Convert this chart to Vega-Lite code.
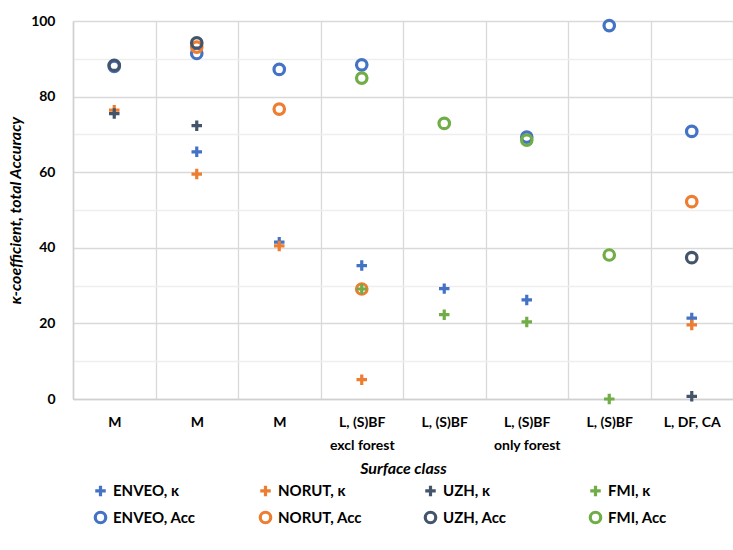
{
  "$schema": "https://vega.github.io/schema/vega-lite/v6.json",
  "autosize": "none",
  "width": 660,
  "height": 378,
  "padding": {"left": 73, "top": 21, "right": 0, "bottom": 151},
  "background": "white",
  "config": {
    "font": "Lato",
    "view": {"stroke": null}
  },
  "data": {
    "values": [
      {"col": "c1", "series": "ENVEO, Acc", "value": 88.0},
      {"col": "c1", "series": "UZH, Acc", "value": 88.3},
      {"col": "c1", "series": "NORUT, κ", "value": 76.4},
      {"col": "c1", "series": "UZH, κ", "value": 75.5},
      {"col": "c2", "series": "ENVEO, Acc", "value": 91.4},
      {"col": "c2", "series": "NORUT, Acc", "value": 93.1},
      {"col": "c2", "series": "UZH, Acc", "value": 94.2},
      {"col": "c2", "series": "UZH, κ", "value": 72.3},
      {"col": "c2", "series": "ENVEO, κ", "value": 65.4},
      {"col": "c2", "series": "NORUT, κ", "value": 59.5},
      {"col": "c3", "series": "ENVEO, Acc", "value": 87.2},
      {"col": "c3", "series": "NORUT, Acc", "value": 76.7},
      {"col": "c3", "series": "ENVEO, κ", "value": 41.5},
      {"col": "c3", "series": "NORUT, κ", "value": 40.5},
      {"col": "c4", "series": "ENVEO, Acc", "value": 88.4},
      {"col": "c4", "series": "FMI, Acc", "value": 84.9},
      {"col": "c4", "series": "ENVEO, κ", "value": 35.3},
      {"col": "c4", "series": "NORUT, Acc", "value": 29.1},
      {"col": "c4", "series": "FMI, κ", "value": 29.1},
      {"col": "c4", "series": "NORUT, κ", "value": 5.1},
      {"col": "c5", "series": "FMI, Acc", "value": 72.9},
      {"col": "c5", "series": "ENVEO, κ", "value": 29.2},
      {"col": "c5", "series": "FMI, κ", "value": 22.3},
      {"col": "c6", "series": "ENVEO, Acc", "value": 69.3},
      {"col": "c6", "series": "FMI, Acc", "value": 68.5},
      {"col": "c6", "series": "ENVEO, κ", "value": 26.2},
      {"col": "c6", "series": "FMI, κ", "value": 20.4},
      {"col": "c7", "series": "ENVEO, Acc", "value": 98.8},
      {"col": "c7", "series": "FMI, Acc", "value": 38.1},
      {"col": "c7", "series": "FMI, κ", "value": 0.0},
      {"col": "c8", "series": "ENVEO, Acc", "value": 70.8},
      {"col": "c8", "series": "NORUT, Acc", "value": 52.2},
      {"col": "c8", "series": "UZH, Acc", "value": 37.4},
      {"col": "c8", "series": "ENVEO, κ", "value": 21.4},
      {"col": "c8", "series": "NORUT, κ", "value": 19.6},
      {"col": "c8", "series": "UZH, κ", "value": 0.7}
    ]
  },
  "mark": {"type": "point", "filled": false, "strokeWidth": 3.2, "size": 110, "opacity": 1, "clip": false},
  "encoding": {
    "x": {
      "field": "col",
      "type": "nominal",
      "scale": {"domain": ["c1","c2","c3","c4","c5","c6","c7","c8"], "paddingInner": 0, "paddingOuter": 0},
      "axis": {
        "title": "Surface class",
        "titleFont": "Lato",
        "titleFontSize": 16,
        "titleFontWeight": "bold",
        "titleFontStyle": "italic",
        "titleColor": "#000000",
        "titlePadding": 8,
        "labelExpr": "datum.value == 'c1' || datum.value == 'c2' || datum.value == 'c3' ? 'M' : datum.value == 'c4' ? ['L, (S)BF', 'excl forest'] : datum.value == 'c5' || datum.value == 'c7' ? 'L, (S)BF' : datum.value == 'c6' ? ['L, (S)BF', 'only forest'] : datum.value == 'c8' ? 'L, DF, CA' : ''",
        "labelAngle": 0,
        "labelFontSize": 14,
        "labelFontWeight": "bold",
        "labelColor": "#000000",
        "labelPadding": 16,
        "labelLineHeight": 23,
        "ticks": false,
        "tickBand": "extent",
        "grid": true,
        "gridColor": "#d9d9d9",
        "gridWidth": 1.3,
        "domainColor": "#d0d0d0",
        "domainWidth": 1.5
      }
    },
    "y": {
      "field": "value",
      "type": "quantitative",
      "scale": {"domain": [0, 100], "nice": false},
      "axis": {
        "title": "κ-coefficient, total Accuracy",
        "titleFont": "Lato",
        "titleFontSize": 16,
        "titleFontWeight": "bold",
        "titleFontStyle": "italic",
        "titleColor": "#000000",
        "titlePadding": 7,
        "values": [0,10,20,30,40,50,60,70,80,90,100],
        "labelExpr": "datum.value % 20 == 0 ? datum.label : ''",
        "labelFontSize": 14,
        "labelFontWeight": "bold",
        "labelColor": "#000000",
        "labelPadding": 18,
        "ticks": false,
        "domain": true,
        "domainColor": "#d0d0d0",
        "domainWidth": 1.5,
        "grid": true,
        "gridColor": {"condition": {"test": "datum.value % 20 == 0", "value": "#d9d9d9"}, "value": "#eeeeee"},
        "gridWidth": 1.3
      }
    },
    "color": {
      "field": "series",
      "type": "nominal",
      "scale": {
        "domain": ["ENVEO, κ","NORUT, κ","UZH, κ","FMI, κ","ENVEO, Acc","NORUT, Acc","UZH, Acc","FMI, Acc"],
        "range": ["#4472C4","#ED7D31","#44546A","#70AD47","#4472C4","#ED7D31","#44546A","#70AD47"]
      },
      "legend": {
        "title": null,
        "orient": "none",
        "legendX": 20,
        "legendY": 462,
        "direction": "horizontal",
        "columns": 4,
        "gridAlign": "all",
        "columnPadding": 55,
        "rowPadding": 2,
        "labelFontSize": 15,
        "labelFontWeight": "bold",
        "labelColor": "#000000",
        "labelOffset": 5,
        "symbolSize": 110,
        "symbolStrokeWidth": 3.2,
        "symbolFillColor": "transparent"
      }
    },
    "shape": {
      "field": "series",
      "type": "nominal",
      "scale": {
        "domain": ["ENVEO, κ","NORUT, κ","UZH, κ","FMI, κ","ENVEO, Acc","NORUT, Acc","UZH, Acc","FMI, Acc"],
        "range": ["M-1,0L1,0M0,-1L0,1","M-1,0L1,0M0,-1L0,1","M-1,0L1,0M0,-1L0,1","M-1,0L1,0M0,-1L0,1","circle","circle","circle","circle"]
      }
    }
  }
}
